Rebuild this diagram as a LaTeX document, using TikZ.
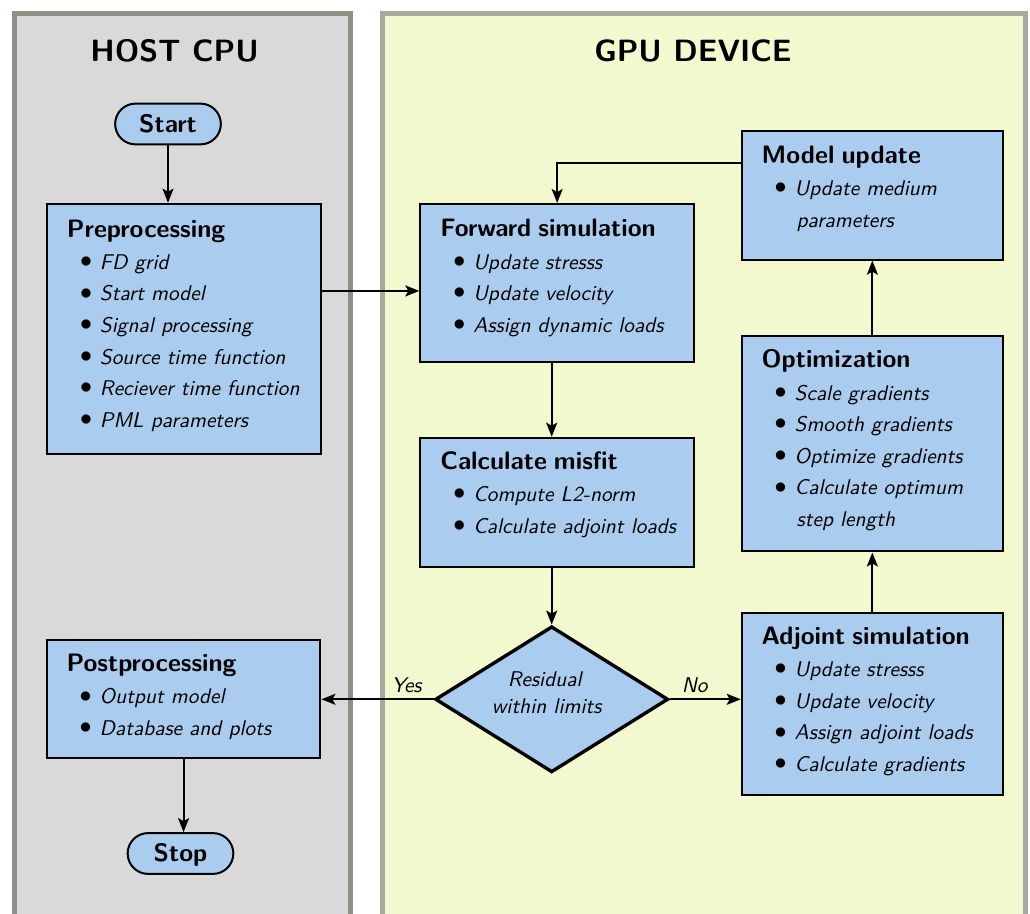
\documentclass[tikz,border=0pt]{standalone}
\usetikzlibrary{shapes.geometric,shapes.misc,arrows.meta,calc}

\definecolor{hostfill}{HTML}{D9D9D9}
\definecolor{hostedge}{HTML}{8F8F85}
\definecolor{gpufill}{HTML}{F3F9CE}
\definecolor{gpuedge}{HTML}{A9A9A0}
\definecolor{boxfill}{HTML}{AACCEE}

% box contents: bold title, bulleted items, continuation lines
\newcommand\boxtitle[1]{{\fontsize{12.6}{15.8}\selectfont\bfseries\upshape #1}}
\newcommand\bulletmark{\raisebox{0.9pt}{\fontsize{11.5}{11.5}\selectfont$\bullet$}}
\newcommand\bitem[1]{\hspace*{6.5pt}\makebox[10pt][l]{\bulletmark}\mbox{#1}}
\newcommand\bcont[1]{\hspace*{17.5pt}\mbox{#1}}

\tikzset{
  lane/.style={line width=2.5pt},
  lanetitle/.style={font=\sffamily\bfseries\fontsize{15.4}{18}\selectfont, anchor=base},
  proc/.style={draw, fill=boxfill, line width=1pt, rectangle, align=left,
    inner xsep=10pt, inner ysep=0pt, anchor=north west,
    font=\sffamily\slshape\fontsize{10.65}{15.8}\selectfont},
  procwide/.style={proc, text width=116.85pt},
  procnarrow/.style={proc, text width=110.65pt},
  term/.style={draw, fill=boxfill, line width=1pt, rounded rectangle,
    minimum width=52.85pt, minimum height=20.4pt, inner sep=0pt,
    text height=8.5pt, text depth=0pt,
    font=\sffamily\bfseries\fontsize{12.6}{14}\selectfont},
  decision/.style={draw, fill=boxfill, line width=1.7pt, diamond, aspect=1.6,
    inner sep=0pt, minimum width=116.5pt, minimum height=73pt, align=center,
    text height=15pt, text depth=0.6pt,
    font=\sffamily\slshape\fontsize{10.65}{13.35}\selectfont},
  arr/.style={line width=1pt, -{Stealth[length=7pt,width=5.5pt,inset=1.5pt]}},
  edgelabel/.style={font=\sffamily\slshape\fontsize{10.65}{12}\selectfont, anchor=base},
}

\begin{document}
\begin{tikzpicture}[x=0.5pt,y=-0.5pt]
\useasboundingbox (0,0) rectangle (1030,914);

% swimlanes
\begin{scope}
  \clip (0,0) rectangle (1030,914);
  \filldraw[lane, fill=hostfill, draw=hostedge] (14.2,13.2) rectangle (350.2,1000);
  \filldraw[lane, fill=gpufill, draw=gpuedge] (382.2,13.2) rectangle (1025,1000);
\end{scope}
\node[lanetitle] (hosttitle) at (174.7,62) {HOST CPU};
\node[lanetitle] (gputitle) at (693,62) {GPU DEVICE};

% host side
\node[term] (start) at (168,124) {Start};
\node[procwide, text height=16.75pt, text depth=108.25pt] (pre) at (46,202.7)
  {\boxtitle{Preprocessing}\\[0.3pt]
   \bitem{FD grid}\\
   \bitem{Start model}\\
   \bitem{Signal processing}\\
   \bitem{Source time function}\\
   \bitem{Reciever time function}\\
   \bitem{PML parameters}};
\node[procwide, text height=15.85pt, text depth=43.15pt] (post) at (45.7,639)
  {\boxtitle{Postprocessing}\\[0.3pt]
   \bitem{Output model}\\
   \bitem{Database and plots}};
\node[term] (stop) at (180.5,853.5) {Stop};

% device side
\node[procwide, text height=16.5pt, text depth=62.65pt] (fwd) at (419.3,203)
  {\boxtitle{Forward simulation}\\[0.3pt]
   \bitem{Update stresss}\\
   \bitem{Update velocity}\\
   \bitem{Assign dynamic loads}};
\node[procwide, text height=15.9pt, text depth=48.6pt] (misfit) at (419.3,436.7)
  {\boxtitle{Calculate misfit}\\[0.3pt]
   \bitem{Compute L2-norm}\\
   \bitem{Calculate adjoint loads}};
\node[decision] (dec) at (551.7,699.3)
  {Residual\hspace*{7pt}\\within limits\hspace*{5pt}};
\node[procnarrow, text height=16.15pt, text depth=48.2pt] (model) at (740.7,130)
  {\boxtitle{Model update}\\[0.3pt]
   \bitem{Update medium}\\
   \bcont{parameters}};
\node[procnarrow, text height=16pt, text depth=91.75pt] (opt) at (740.7,335)
  {\boxtitle{Optimization}\\[0.3pt]
   \bitem{Scale gradients}\\
   \bitem{Smooth gradients}\\
   \bitem{Optimize gradients}\\
   \bitem{Calculate optimum}\\
   \bcont{step length}};
\node[procnarrow, text height=15.9pt, text depth=75.1pt] (adj) at (740.7,611.7)
  {\boxtitle{Adjoint simulation}\\[0.3pt]
   \bitem{Update stresss}\\
   \bitem{Update velocity}\\
   \bitem{Assign adjoint loads}\\
   \bitem{Calculate gradients}};

% connectors
\coordinate (fwdin) at ([yshift=-3.9pt]fwd.west);
\draw[arr] (start.south) -- (start.south |- pre.north);
\draw[arr] (pre.east |- fwdin) -- (fwdin);
\draw[arr] (fwd.south -| dec) -- (misfit.north -| dec);
\draw[arr] (misfit.south -| dec) -- (dec.north);
\draw[arr] (dec.west) -- (dec.west -| post.east)
  node[edgelabel, pos=0.24, yshift=3.6pt] (yes) {Yes};
\draw[arr] (dec.east) -- (dec.east -| adj.west)
  node[edgelabel, pos=0.35, yshift=3.2pt] (no) {No};
\draw[arr] (adj.north) -- (opt.south);
\draw[arr] (opt.north) -- (model.south);
\draw[arr] ([yshift=-16.65pt]model.north west) -| (fwd.north);
\draw[arr] (post.south) -- (post.south |- stop.north);
\end{tikzpicture}
\end{document}
